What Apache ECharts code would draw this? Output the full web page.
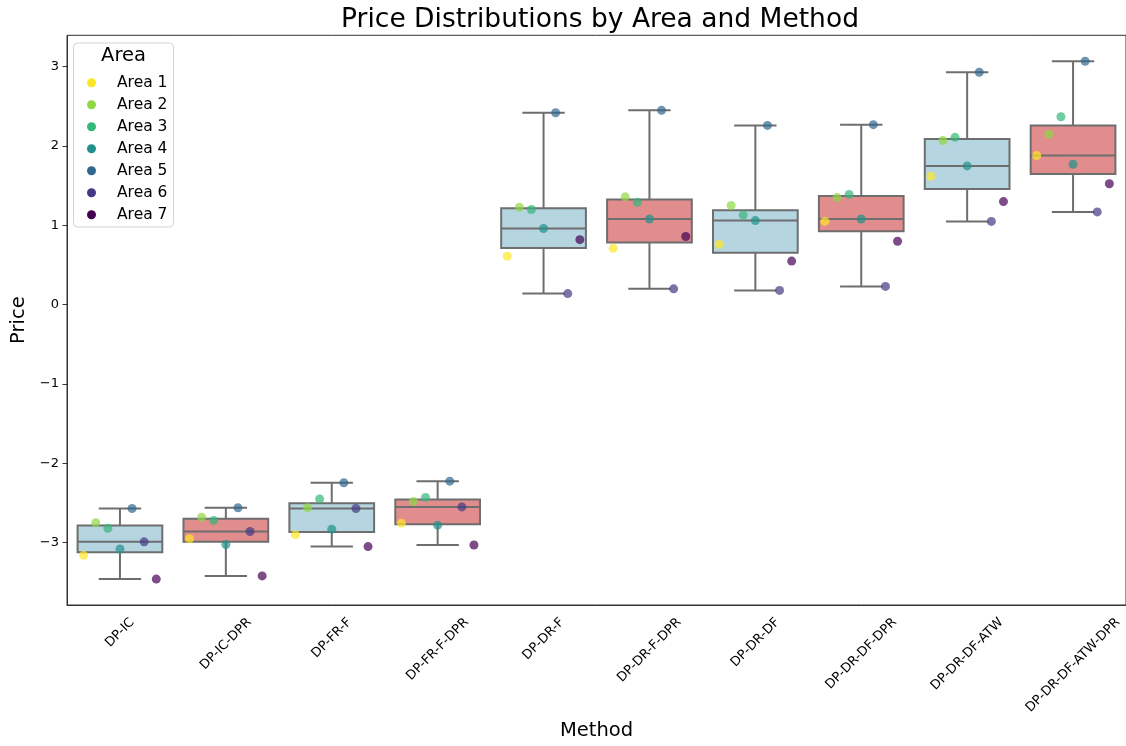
<!DOCTYPE html>
<html>
<head>
<meta charset="utf-8">
<script src="https://cdn.jsdelivr.net/npm/echarts@6/dist/echarts.min.js"></script>
<style>
  html, body { margin: 0; padding: 0; background: #fff; }
  #chart { width: 1126px; height: 746px; }
</style>
</head>
<body>
<div id="chart"></div>
<script>
// Pricing methods along the x axis
const methods = ['DP-IC', 'DP-IC-DPR', 'DP-FR-F', 'DP-FR-F-DPR', 'DP-DR-F', 'DP-DR-F-DPR',
                 'DP-DR-DF', 'DP-DR-DF-DPR', 'DP-DR-DF-ATW', 'DP-DR-DF-ATW-DPR'];
const areas = ['Area 1', 'Area 2', 'Area 3', 'Area 4', 'Area 5', 'Area 6', 'Area 7'];

// Price per area, one value per method (same order as `methods`)
const area1 = [-3.16, -2.95, -2.90, -2.755, 0.61, 0.71, 0.76, 1.05, 1.62, 1.88];
const area2 = [-2.75, -2.68, -2.56, -2.48, 1.23, 1.36, 1.25, 1.35, 2.07, 2.15];
const area3 = [-2.82, -2.72, -2.45, -2.43, 1.20, 1.29, 1.13, 1.39, 2.11, 2.37];
const area4 = [-3.08, -3.025, -2.83, -2.78, 0.96, 1.08, 1.06, 1.08, 1.75, 1.77];
const area5 = [-2.57, -2.56, -2.245, -2.225, 2.42, 2.45, 2.26, 2.27, 2.93, 3.07];
const area6 = [-2.99, -2.86, -2.57, -2.55, 0.14, 0.20, 0.18, 0.23, 1.05, 1.17];
const area7 = [-3.46, -3.42, -3.05, -3.03, 0.82, 0.86, 0.55, 0.80, 1.30, 1.525];
const priceByArea = [area1, area2, area3, area4, area5, area6, area7];

const yTicks = [-3, -2, -1, 0, 1, 2, 3];

// Styling
const FONT = 'DejaVu Sans';
const areaColors = ['#fde725', '#8fd744', '#35b779', '#21918c', '#31688e', '#443983', '#440154'];
const boxFills = ['#b5d5e0', '#e28d8d'];
const EDGE = '#6e6e6e';
const SPINE = '#333';
const TICK_FS = 13;
const BOX_WIDTH = 0.8;                       // fraction of a category band
const DODGE = BOX_WIDTH / areas.length;      // horizontal step between areas inside a band

// Numpy-style linear quantile on a sorted array
function quantile(sorted, p) {
  const h = (sorted.length - 1) * p;
  const lo = Math.floor(h), hi = Math.ceil(h);
  return sorted[lo] + (h - lo) * (sorted[hi] - sorted[lo]);
}

// Box statistics per method: whiskers span the full range
const boxData = methods.map((m, i) => {
  const vals = priceByArea.map(a => a[i]).sort((a, b) => a - b);
  return [i, vals[0], quantile(vals, 0.25), quantile(vals, 0.5), quantile(vals, 0.75), vals[vals.length - 1]];
});

// Value range with a 5% margin on each side
const allVals = priceByArea.flat();
const vMin = Math.min(...allVals), vMax = Math.max(...allVals);
const yMin = vMin - 0.05 * (vMax - vMin);
const yMax = vMax + 0.05 * (vMax - vMin);

const chart = echarts.init(document.getElementById('chart'), null, { renderer: 'canvas' });

function renderBox(params, api) {
  const i = api.value(0);
  const band = api.size([1, 0])[0];
  const half = band * BOX_WIDTH / 2;
  const capHalf = half / 2;
  const cx = api.coord([i, api.value(1)])[0];
  const yLo = api.coord([i, api.value(1)])[1];
  const yQ1 = api.coord([i, api.value(2)])[1];
  const yMed = api.coord([i, api.value(3)])[1];
  const yQ3 = api.coord([i, api.value(4)])[1];
  const yHi = api.coord([i, api.value(5)])[1];
  const line = (x1, y1, x2, y2) => ({
    type: 'line', shape: { x1, y1, x2, y2 },
    style: { stroke: EDGE, lineWidth: 2 }
  });
  return {
    type: 'group',
    children: [
      line(cx, yLo, cx, yQ1),
      line(cx, yQ3, cx, yHi),
      line(cx - capHalf, yLo, cx + capHalf, yLo),
      line(cx - capHalf, yHi, cx + capHalf, yHi),
      {
        type: 'rect',
        shape: { x: cx - half, y: yQ3, width: 2 * half, height: yQ1 - yQ3 },
        style: { fill: boxFills[i % 2], stroke: EDGE, lineWidth: 2 }
      },
      line(cx - half, yMed, cx + half, yMed)
    ]
  };
}

const scatterSeries = areas.map((name, a) => ({
  type: 'scatter',
  name,
  xAxisIndex: 1,
  yAxisIndex: 0,
  symbolSize: 9,
  itemStyle: { color: areaColors[a], opacity: 0.7 },
  data: methods.map((m, i) => [i + (a - (areas.length - 1) / 2) * DODGE, priceByArea[a][i]]),
  z: 5
}));

const fmtMinus = v => (v < 0 ? '\u2212' + Math.abs(v) : String(v));

chart.setOption({
  animation: false,
  title: {
    text: 'Price Distributions by Area and Method',
    left: 600, top: 7, textAlign: 'center', padding: 0,
    textStyle: { fontFamily: FONT, fontSize: 26.5, fontWeight: 'normal', color: '#000' }
  },
  grid: {
    left: 67, top: 35.3, right: -8, bottom: 136.1,
    show: true, borderColor: SPINE, borderWidth: 1, backgroundColor: 'transparent'
  },
  legend: {
    data: areas,
    orient: 'vertical',
    left: 87, top: 74.7, padding: 0,
    itemGap: 6, itemWidth: 9, itemHeight: 9,
    icon: 'circle',
    itemStyle: { opacity: 1 },
    textStyle: { fontFamily: FONT, fontSize: 15.5, lineHeight: 16, color: '#000', padding: [0, 0, 0, 16] },
    z: 10
  },
  xAxis: [
    {
      type: 'category',
      data: methods,
      boundaryGap: true,
      axisLine: { onZero: false, lineStyle: { color: SPINE, width: 1 } },
      axisTick: { alignWithLabel: true, length: 5, lineStyle: { color: SPINE } },
      axisLabel: { show: false },
      splitLine: { show: false },
      name: 'Method',
      nameLocation: 'middle',
      nameGap: 116,
      nameTextStyle: { fontFamily: FONT, fontSize: 19.5, color: '#000' }
    },
    { type: 'value', min: -0.5, max: 9.5, show: false, axisLine: { onZero: false } }
  ],
  yAxis: {
    type: 'value',
    min: yMin, max: yMax,
    axisLine: { show: true, onZero: false, lineStyle: { color: SPINE, width: 1 } },
    axisTick: { show: true, length: 4.5, customValues: yTicks, lineStyle: { color: SPINE } },
    axisLabel: {
      customValues: yTicks, formatter: fmtMinus, margin: 8,
      fontFamily: FONT, fontSize: TICK_FS, color: '#000'
    },
    splitLine: { show: false },
    name: 'Price',
    nameLocation: 'middle',
    nameRotate: 90,
    nameGap: 36,
    nameTextStyle: { fontFamily: FONT, fontSize: 19.5, color: '#000' }
  },
  series: [
    {
      type: 'custom',
      name: 'boxes',
      xAxisIndex: 0,
      yAxisIndex: 0,
      renderItem: renderBox,
      encode: { x: 0, y: [1, 2, 3, 4, 5] },
      data: boxData,
      z: 2
    },
    ...scatterSeries
  ]
});

// Rotated method labels, centred under each tick
const ctx = document.createElement('canvas').getContext('2d');
ctx.font = TICK_FS + 'px "' + FONT + '"';
const axisBottom = chart.convertToPixel({ yAxisIndex: 0 }, yMin);
const labelTop = axisBottom + 10;
const textH = TICK_FS * 1.16;
const methodLabels = methods.map((m, i) => {
  const w = ctx.measureText(m).width;
  const x = chart.convertToPixel({ xAxisIndex: 0 }, i);
  return {
    type: 'text',
    x,
    y: labelTop + Math.SQRT1_2 * (w + textH) / 2,
    rotation: Math.PI / 4,
    style: {
      text: m, fontFamily: FONT, fontSize: TICK_FS, fill: '#000',
      align: 'center', verticalAlign: 'middle'
    }
  };
});

chart.setOption({
  graphic: {
    elements: [
      {
        type: 'rect', z: 1,
        shape: { x: 73.5, y: 43, width: 100, height: 184, r: 4 },
        style: { fill: 'rgba(255,255,255,0.85)', stroke: '#d4d4d4', lineWidth: 1 }
      },
      {
        type: 'text', z: 2, x: 123.5, y: 56,
        style: {
          text: 'Area', fontFamily: FONT, fontSize: 19.5, fill: '#000',
          align: 'center', verticalAlign: 'middle'
        }
      },
      ...methodLabels
    ]
  }
});
</script>
</body>
</html>
